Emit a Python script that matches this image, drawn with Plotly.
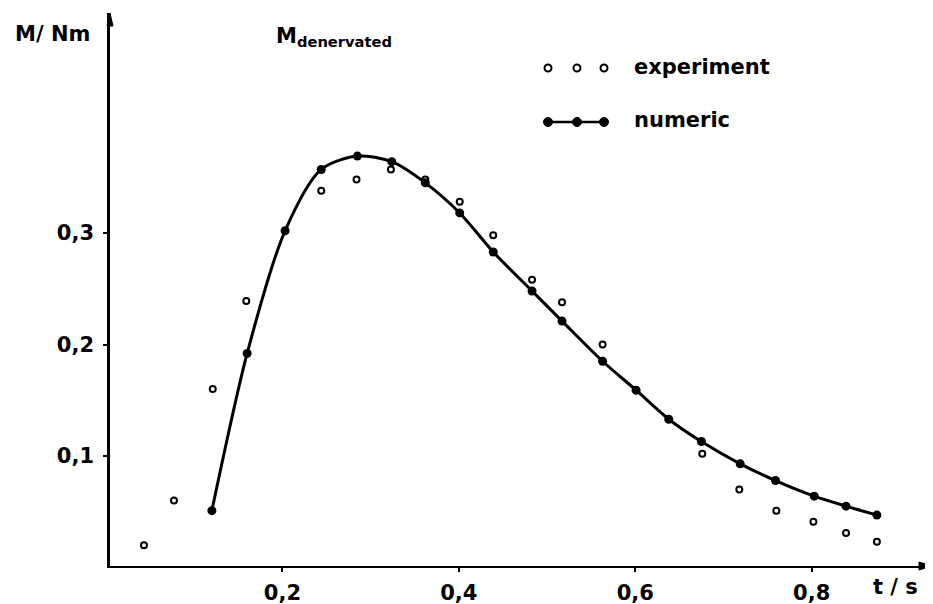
import plotly.graph_objects as go

# ---- data ----
exp_t = [0.043, 0.077, 0.121, 0.159, 0.244, 0.284, 0.323, 0.362, 0.401, 0.439,
         0.483, 0.517, 0.563, 0.676, 0.718, 0.760, 0.802, 0.839, 0.874]
exp_M = [0.020, 0.060, 0.160, 0.239, 0.338, 0.348, 0.357, 0.348, 0.328, 0.298,
         0.258, 0.238, 0.200, 0.102, 0.070, 0.051, 0.041, 0.031, 0.023]

num_t = [0.120, 0.160, 0.203, 0.244, 0.285, 0.324, 0.362, 0.401, 0.439, 0.483,
         0.517, 0.563, 0.601, 0.638, 0.675, 0.719, 0.759, 0.803, 0.839, 0.874]
num_M = [0.051, 0.192, 0.302, 0.357, 0.369, 0.364, 0.345, 0.318, 0.283, 0.248,
         0.221, 0.185, 0.159, 0.133, 0.113, 0.093, 0.078, 0.064, 0.055, 0.047]

x_tickvals = [0.2, 0.4, 0.6, 0.8]
x_ticktext = ["0,2", "0,4", "0,6", "0,8"]
y_tickvals = [0.1, 0.2, 0.3]
y_ticktext = ["0,1", "0,2", "0,3"]

series_names = ["experiment", "numeric"]

FONT = "DejaVu Sans"
OFF = 8                      # default page body margin
W, H = 933 - OFF, 604 - OFF  # figure size so the page is filled exactly
L, R, T, B = 110 - OFF, 1, 13 - OFF, 38
PW, PH = W - L - R, H - T - B


def px(x):
    """page x pixel -> paper fraction"""
    return (x - OFF - L) / PW


def py(y):
    """page y pixel -> paper fraction"""
    return (OFF + H - B - y) / PH


fig = go.Figure()

fig.add_trace(go.Scatter(
    x=num_t, y=num_M, mode="lines+markers", name=series_names[1],
    line=dict(color="black", width=3, shape="spline", smoothing=0.8),
    marker=dict(symbol="circle", size=9, color="black"),
    showlegend=False,
))
fig.add_trace(go.Scatter(
    x=exp_t, y=exp_M, mode="markers", name=series_names[0],
    marker=dict(symbol="circle-open", size=6, color="black", line=dict(width=2, color="black")),
    showlegend=False,
))

x0 = 0.0045
y0 = 0.00135
fig.update_xaxes(
    range=[x0, x0 + PW / 882.0], showgrid=False, zeroline=False,
    showline=True, linecolor="black", linewidth=2,
    ticks="outside", ticklen=4, tickwidth=1.5, tickcolor="black",
    tickvals=x_tickvals, ticktext=x_ticktext, ticklabelstandoff=3,
    tickfont=dict(family=FONT, size=21, color="black", weight="bold"),
    automargin=False,
)
fig.update_yaxes(
    range=[y0, y0 + PH / 1115.0], showgrid=False, zeroline=False,
    showline=True, linecolor="black", linewidth=2.5,
    ticks="outside", ticklen=4, tickwidth=1.5, tickcolor="black",
    tickvals=y_tickvals, ticktext=y_ticktext, ticklabelstandoff=5,
    tickfont=dict(family=FONT, size=21, color="black", weight="bold"),
    automargin=False,
)

bold = dict(family=FONT, size=21, color="black", weight="bold")
ann = []
# axis labels
ann.append(dict(xref="paper", yref="paper", x=px(52), y=py(34), text="M/ Nm",
                showarrow=False, font=bold, xanchor="center", yanchor="middle"))
ann.append(dict(xref="paper", yref="paper", x=px(895), y=py(587), text="t / s",
                showarrow=False, font=bold, xanchor="center", yanchor="middle"))
# panel title
ann.append(dict(xref="paper", yref="paper", x=px(274), y=py(37), text="M<sub>denervated</sub>",
                showarrow=False, font=dict(family=FONT, size=21, color="black", weight="bold"),
                xanchor="left", yanchor="middle"))
# legend text
ann.append(dict(xref="paper", yref="paper", x=px(632), y=py(67), text=series_names[0],
                showarrow=False, font=bold, xanchor="left", yanchor="middle"))
ann.append(dict(xref="paper", yref="paper", x=px(632), y=py(120), text=series_names[1],
                showarrow=False, font=bold, xanchor="left", yanchor="middle"))

shapes = []
# axis arrowheads (paper-fraction paths)
ax_len, ax_half = 13.0 / PW, 4.0 / PH
shapes.append(dict(type="path", xref="paper", yref="paper",
                   path=f"M 1 0 L {1 - ax_len} {ax_half} L {1 - ax_len} {-ax_half} Z",
                   fillcolor="black", line=dict(color="black", width=1)))
ay_len, ay_half = 13.0 / PH, 3.0 / PW
shapes.append(dict(type="path", xref="paper", yref="paper",
                   path=f"M 0 1 L {-ay_half} {1 - ay_len} L {ay_half} {1 - ay_len} Z",
                   fillcolor="black", line=dict(color="black", width=1)))
# legend key: numeric line
shapes.append(dict(type="line", xref="paper", yref="paper", x0=px(548), x1=px(604),
                   y0=py(122), y1=py(122), line=dict(color="black", width=2.5)))
for cx in (548, 577, 604):
    shapes.append(dict(type="circle", xref="paper", yref="paper",
                       xsizemode="pixel", ysizemode="pixel",
                       xanchor=px(cx), yanchor=py(68), x0=-3.5, x1=3.5, y0=-3.5, y1=3.5,
                       line=dict(color="black", width=2), fillcolor="white"))
    shapes.append(dict(type="circle", xref="paper", yref="paper",
                       xsizemode="pixel", ysizemode="pixel",
                       xanchor=px(cx), yanchor=py(122), x0=-4.5, x1=4.5, y0=-4.5, y1=4.5,
                       line=dict(color="black", width=1), fillcolor="black"))

fig.update_layout(
    width=W, height=H, margin=dict(l=L, r=R, t=T, b=B, pad=0),
    paper_bgcolor="white", plot_bgcolor="white",
    annotations=ann, shapes=shapes, showlegend=False,
)

fig.write_html("out.html")
